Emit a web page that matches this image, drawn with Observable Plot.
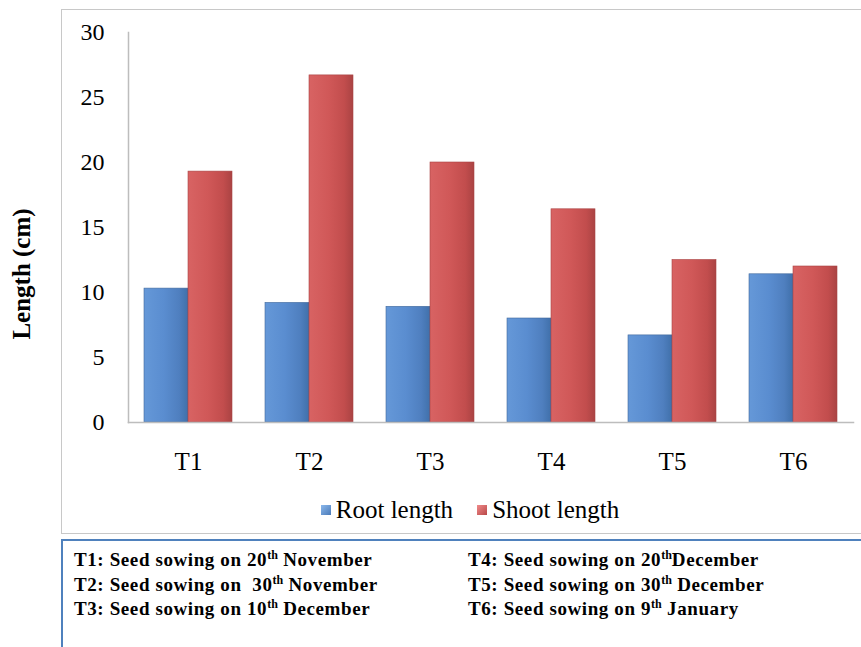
<!DOCTYPE html>
<html>
<head>
<meta charset="utf-8">
<script src="https://cdn.jsdelivr.net/npm/d3@7"></script>
<script src="https://cdn.jsdelivr.net/npm/@observablehq/plot@0.6"></script>
<style>
  html, body { margin: 0; padding: 0; background: #fff; }
  #wrap { position: relative; width: 861px; height: 647px; overflow: hidden; font-family: 'Liberation Serif', serif; }
  #frame { position: absolute; left: 61px; top: 9px; width: 820px; height: 523px; border: 1.5px solid #c8c8c8; box-sizing: content-box; }
  #chart { position: absolute; left: 0; top: 0; }
  #chart svg, #chart svg text { font-family: 'Liberation Serif', serif !important; }
  #ylabel { position: absolute; left: 22px; top: 274px; transform: translate(-50%, -50%) rotate(-90deg); font-weight: bold; font-size: 25px; white-space: nowrap; }
  #legend { position: absolute; left: 0; width: 940px; top: 496px; display: flex; justify-content: center; align-items: center; font-size: 25px; }
  .item { display: flex; align-items: center; margin: 0 12px; }
  .sw { width: 10px; height: 10px; margin-right: 5px; }
  #notes { position: absolute; left: 61px; top: 539px; width: 830px; height: 130px; border: 2.5px solid #4f81bd; border-right: none; border-bottom: none; box-sizing: border-box; font-weight: bold; font-size: 19px; letter-spacing: 0.6px; }
  .col { position: absolute; top: 7px; line-height: 24.5px; white-space: pre; }
  sup { font-size: 12px; line-height: 0; vertical-align: 7px; letter-spacing: 0; }
</style>
</head>
<body>
<div id="wrap">
  <div id="frame"></div>
  <div id="chart"></div>
  <div id="ylabel"></div>
  <div id="legend"></div>
  <div id="notes"></div>
</div>
<script>
const categories = ["T1", "T2", "T3", "T4", "T5", "T6"];
const seriesNames = ["Root length", "Shoot length"];
const rootLength = [10.3, 9.2, 8.9, 8.0, 6.7, 11.4];
const shootLength = [19.3, 26.7, 20.0, 16.4, 12.5, 12.0];
const yTicks = [0, 5, 10, 15, 20, 25, 30];
const yLabel = "Length (cm)";
const notesLeft = [
  ["T1: Seed sowing on 20", "th", " November"],
  ["T2: Seed sowing on  30", "th", " November"],
  ["T3: Seed sowing on 10", "th", " December"]
];
const notesRight = [
  ["T4: Seed sowing on 20", "th", "December"],
  ["T5: Seed sowing on 30", "th", " December"],
  ["T6: Seed sowing on 9", "th", " January"]
];

const rootData = categories.map((c, i) => ({cat: c, series: seriesNames[0], value: rootLength[i]}));
const shootData = categories.map((c, i) => ({cat: c, series: seriesNames[1], value: shootLength[i]}));

const fontFamily = "Liberation Serif, serif";

const chart = Plot.plot({
  width: 861,
  height: 500,
  marginLeft: 143,
  marginRight: 22,
  marginTop: 32,
  marginBottom: 78,
  style: {fontFamily, fontSize: "24px", color: "#000", background: "transparent", overflow: "visible"},
  fx: {domain: categories, paddingInner: 0.27, paddingOuter: 0, label: null},
  x: {domain: seriesNames, padding: 0, axis: null},
  y: {domain: [0, 30], label: null},
  marks: [
    Plot.barY(rootData, {fx: "cat", x: "series", y: "value", fill: "url(#gBlue)", stroke: "#41699c", strokeWidth: 0.6}),
    Plot.barY(shootData, {fx: "cat", x: "series", y: "value", fill: "url(#gRed)", stroke: "#a94444", strokeWidth: 0.6}),
    Plot.frame({anchor: "left", facet: "super", stroke: "#bdbdbd", strokeWidth: 1.5, dx: -16}),
    Plot.frame({anchor: "bottom", facet: "super", stroke: "#bdbdbd", strokeWidth: 1.5, insetLeft: -16, insetRight: -16}),
    Plot.axisY({ticks: yTicks, tickSize: 0, tickPadding: 40, fontSize: 24, label: null}),
    Plot.axisFx({anchor: "bottom", tickSize: 0, tickPadding: 30, fontSize: 25, label: null})
  ]
});

const svg = d3.select(chart.tagName.toLowerCase() === "svg" ? chart : chart.querySelector("svg"));
const defs = svg.insert("defs", ":first-child");
function grad(id, stops) {
  const g = defs.append("linearGradient").attr("id", id)
    .attr("x1", 0).attr("y1", 0).attr("x2", 1).attr("y2", 0);
  stops.forEach(([o, c]) => g.append("stop").attr("offset", o).attr("stop-color", c));
}
grad("gBlue", [[0, "#6598d8"], [0.45, "#5a8dd0"], [0.8, "#4f7fbf"], [1, "#4070aa"]]);
grad("gRed", [[0, "#d86363"], [0.45, "#d05858"], [0.8, "#c24d4d"], [1, "#aa4343"]]);
document.getElementById("chart").appendChild(chart);

document.getElementById("ylabel").textContent = yLabel;

const legend = document.getElementById("legend");
const swatches = ["linear-gradient(135deg, #8bb8ec, #4a7ab8)", "linear-gradient(135deg, #f08a8a, #b84848)"];
seriesNames.forEach((s, i) => {
  const item = document.createElement("div");
  item.className = "item";
  const sw = document.createElement("div");
  sw.className = "sw";
  sw.style.background = swatches[i];
  const t = document.createElement("span");
  t.textContent = s;
  item.appendChild(sw);
  item.appendChild(t);
  legend.appendChild(item);
});

const notes = document.getElementById("notes");
function col(lines, left) {
  const d = document.createElement("div");
  d.className = "col";
  d.style.left = left + "px";
  lines.forEach(([a, s, b]) => {
    const line = document.createElement("div");
    line.appendChild(document.createTextNode(a));
    const sp = document.createElement("sup");
    sp.textContent = s;
    line.appendChild(sp);
    line.appendChild(document.createTextNode(b));
    d.appendChild(line);
  });
  notes.appendChild(d);
}
col(notesLeft, 11);
col(notesRight, 405);
</script>
</body>
</html>
